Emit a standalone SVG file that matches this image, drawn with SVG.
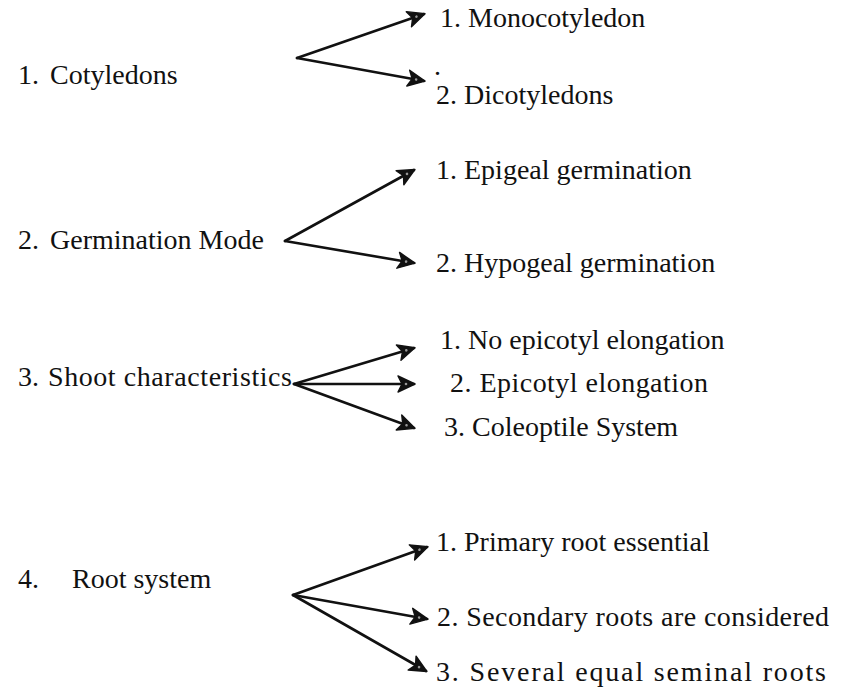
<svg xmlns="http://www.w3.org/2000/svg" width="853" height="699" viewBox="0 0 853 699">
<defs>
<style>
text{font-family:"Liberation Serif","Times New Roman",serif;font-size:28px;fill:#111}
.c{fill:none;stroke:#111;stroke-width:2.6;stroke-linecap:round}
</style>
<marker id="ah" viewBox="-2 -10 22 20" markerWidth="22" markerHeight="20" refX="16" refY="0" orient="auto" markerUnits="userSpaceOnUse">
<path d="M0,-8 L17,0 L0,8 L4,0 Z" fill="#111" stroke="#111" stroke-width="1.4" stroke-linejoin="round"/>
<circle cx="8" cy="0" r="1.3" fill="#999"/>
</marker>
</defs>
<rect width="853" height="699" fill="#fff"/>
<g id="n1"><text x="18" y="84">1.</text><text x="50" y="84">Cotyledons</text></g>
<g id="n1a"><text x="440" y="27">1. Monocotyledon</text></g>
<g id="n1b"><text x="436" y="104">2. Dicotyledons</text><text x="434" y="75">.</text></g>
<g id="n2"><text x="18" y="249">2.</text><text x="50" y="249">Germination Mode</text></g>
<g id="n2a"><text x="436" y="179">1. Epigeal germination</text></g>
<g id="n2b"><text x="436" y="272">2. Hypogeal germination</text></g>
<g id="n3"><text x="18" y="386">3.</text><text x="48" y="386" textLength="244">Shoot characteristics</text></g>
<g id="n3a"><text x="440" y="349">1. No epicotyl elongation</text></g>
<g id="n3b"><text x="450" y="392" textLength="258">2. Epicotyl elongation</text></g>
<g id="n3c"><text x="444" y="436">3. Coleoptile System</text></g>
<g id="n4"><text x="18" y="588">4.</text><text x="72" y="588">Root system</text></g>
<g id="n4a"><text x="436" y="551">1. Primary root essential</text></g>
<g id="n4b"><text x="437" y="626" textLength="392">2. Secondary roots are considered</text></g>
<g id="n4c"><text x="436" y="681" textLength="390">3. Several equal seminal roots</text></g>
<g id="connectors">
<path class="c" d="M297,58 L424,14" marker-end="url(#ah)"/>
<path class="c" d="M297,58 L424,81" marker-end="url(#ah)"/>
<path class="c" d="M285,241 L414,170" marker-end="url(#ah)"/>
<path class="c" d="M285,241 L414,263" marker-end="url(#ah)"/>
<path class="c" d="M294,384 L414,348" marker-end="url(#ah)"/>
<path class="c" d="M294,384 L414,384" marker-end="url(#ah)"/>
<path class="c" d="M294,384 L414,428" marker-end="url(#ah)"/>
<path class="c" d="M293,595 L427,547" marker-end="url(#ah)"/>
<path class="c" d="M293,595 L427,619" marker-end="url(#ah)"/>
<path class="c" d="M293,595 L426,671" marker-end="url(#ah)"/>
</g>
</svg>
